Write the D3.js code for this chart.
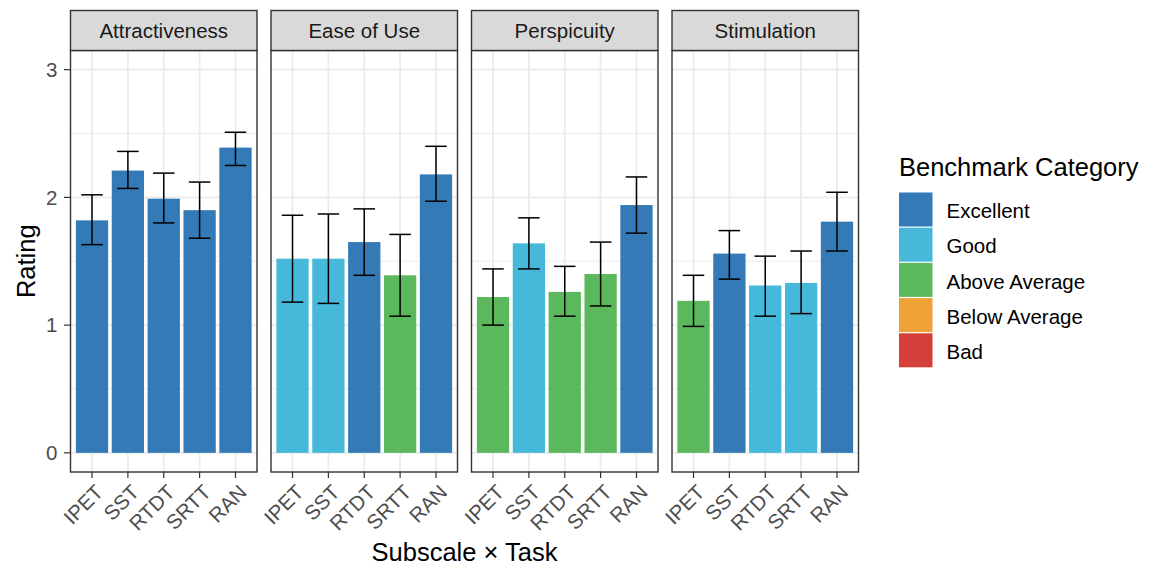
<!DOCTYPE html>
<html>
<head>
<meta charset="utf-8">
<script src="https://cdn.jsdelivr.net/npm/d3@7"></script>
<style>
  body { margin: 0; background: #fff; }
  text { font-family: Arial, "Liberation Sans", Helvetica, sans-serif; }
</style>
</head>
<body>
<svg id="chart" width="1149" height="566"></svg>
<script>
// UEQ subscale ratings by task, faceted by subscale

const subscales = ["Attractiveness", "Ease of Use", "Perspicuity", "Stimulation"];
const tasks = ["IPET", "SST", "RTDT", "SRTT", "RAN"];
const benchmarkCategories = ["Excellent", "Good", "Above Average", "Below Average", "Bad"];
const benchmarkColors = ["#337ab7", "#46b8da", "#5cb85c", "#eea236", "#d43f3a"];
const yTicks = [0, 1, 2, 3];

// one row per subscale, one value per task
const means = [
  [1.82, 2.21, 1.99, 1.90, 2.39],
  [1.52, 1.52, 1.65, 1.39, 2.18],
  [1.22, 1.64, 1.26, 1.40, 1.94],
  [1.19, 1.56, 1.31, 1.33, 1.81]
];
const lower = [
  [1.63, 2.07, 1.80, 1.68, 2.25],
  [1.18, 1.17, 1.39, 1.07, 1.97],
  [1.00, 1.44, 1.07, 1.15, 1.72],
  [0.99, 1.36, 1.07, 1.09, 1.58]
];
const upper = [
  [2.02, 2.36, 2.19, 2.12, 2.51],
  [1.86, 1.87, 1.91, 1.71, 2.40],
  [1.44, 1.84, 1.46, 1.65, 2.16],
  [1.39, 1.74, 1.54, 1.58, 2.04]
];
const category = [
  ["Excellent", "Excellent", "Excellent", "Excellent", "Excellent"],
  ["Good", "Good", "Excellent", "Above Average", "Excellent"],
  ["Above Average", "Good", "Above Average", "Above Average", "Excellent"],
  ["Above Average", "Excellent", "Good", "Good", "Excellent"]
];

const PANEL_LEFT = 70.5;
const PANEL_W = 186.5;
const PANEL_GAP = 14;
const STRIP_TOP = 10.5;
const STRIP_H = 40;
const PANEL_TOP = STRIP_TOP + STRIP_H;
const PANEL_BOTTOM = 472;

const TITLE_SIZE = 25.5;
const TEXT_SIZE = 20.5;

const GRID = "#ebebeb";
const DARK = "#333333";
const AXIS_TEXT = "#4d4d4d";

const svg = d3.select("#chart");

const color = d3.scaleOrdinal().domain(benchmarkCategories).range(benchmarkColors);

const y = d3.scaleLinear().domain([-0.15, 3.15]).range([PANEL_BOTTOM, PANEL_TOP]);

const x = d3.scaleBand()
  .domain(tasks)
  .range([0, PANEL_W])
  .paddingInner(0.1)
  .paddingOuter(0.15);

const capW = x.step() * 0.6;

// y axis labels (only on the first panel)
const yAxis = svg.append("g");
yTicks.forEach(t => {
  yAxis.append("line")
    .attr("x1", PANEL_LEFT - 6.5).attr("x2", PANEL_LEFT)
    .attr("y1", y(t)).attr("y2", y(t))
    .style("stroke", DARK).style("stroke-width", 1.2);
  yAxis.append("text")
    .attr("x", PANEL_LEFT - 13)
    .attr("y", y(t))
    .attr("dy", "0.36em")
    .attr("text-anchor", "end")
    .style("fill", AXIS_TEXT)
    .style("font-size", `${TEXT_SIZE}px`)
    .text(t);
});

subscales.forEach((name, i) => {
  const left = PANEL_LEFT + i * (PANEL_W + PANEL_GAP);
  const panel = svg.append("g").attr("transform", `translate(${left},0)`);

  panel.append("rect")
    .attr("x", 0).attr("y", PANEL_TOP)
    .attr("width", PANEL_W).attr("height", PANEL_BOTTOM - PANEL_TOP)
    .style("fill", "#fff");

  // minor grid
  [0.5, 1.5, 2.5].forEach(v => {
    panel.append("line")
      .attr("x1", 0).attr("x2", PANEL_W)
      .attr("y1", y(v)).attr("y2", y(v))
      .style("stroke", GRID).style("stroke-width", 1);
  });
  // major grid
  yTicks.forEach(v => {
    panel.append("line")
      .attr("x1", 0).attr("x2", PANEL_W)
      .attr("y1", y(v)).attr("y2", y(v))
      .style("stroke", GRID).style("stroke-width", 1.8);
  });
  tasks.forEach(t => {
    const cx = x(t) + x.bandwidth() / 2;
    panel.append("line")
      .attr("x1", cx).attr("x2", cx)
      .attr("y1", PANEL_TOP).attr("y2", PANEL_BOTTOM)
      .style("stroke", GRID).style("stroke-width", 1.8);
  });

  const rows = tasks.map((t, j) => ({
    task: t,
    mean: means[i][j],
    lo: lower[i][j],
    hi: upper[i][j],
    cat: category[i][j]
  }));

  // bars
  panel.selectAll(".bar")
    .data(rows)
    .enter()
    .append("rect")
    .attr("class", "bar")
    .attr("x", d => x(d.task))
    .attr("width", x.bandwidth())
    .attr("y", d => y(d.mean))
    .attr("height", d => y(0) - y(d.mean))
    .style("fill", d => color(d.cat));

  // error bars
  const eb = panel.selectAll(".err")
    .data(rows)
    .enter()
    .append("g")
    .attr("class", "err")
    .style("stroke", "#000")
    .style("stroke-width", 1.5)
    .style("fill", "none");
  eb.append("line")
    .attr("x1", d => x(d.task) + x.bandwidth() / 2)
    .attr("x2", d => x(d.task) + x.bandwidth() / 2)
    .attr("y1", d => y(d.lo)).attr("y2", d => y(d.hi));
  eb.append("line")
    .attr("x1", d => x(d.task) + x.bandwidth() / 2 - capW / 2)
    .attr("x2", d => x(d.task) + x.bandwidth() / 2 + capW / 2)
    .attr("y1", d => y(d.hi)).attr("y2", d => y(d.hi));
  eb.append("line")
    .attr("x1", d => x(d.task) + x.bandwidth() / 2 - capW / 2)
    .attr("x2", d => x(d.task) + x.bandwidth() / 2 + capW / 2)
    .attr("y1", d => y(d.lo)).attr("y2", d => y(d.lo));

  // panel border
  panel.append("rect")
    .attr("x", 0).attr("y", PANEL_TOP)
    .attr("width", PANEL_W).attr("height", PANEL_BOTTOM - PANEL_TOP)
    .style("fill", "none")
    .style("stroke", DARK).style("stroke-width", 1.4);

  // strip
  panel.append("rect")
    .attr("x", 0).attr("y", STRIP_TOP)
    .attr("width", PANEL_W).attr("height", STRIP_H)
    .style("fill", "#d9d9d9")
    .style("stroke", DARK).style("stroke-width", 1.4);
  panel.append("text")
    .attr("x", PANEL_W / 2)
    .attr("y", STRIP_TOP + STRIP_H / 2)
    .attr("dy", "0.36em")
    .attr("text-anchor", "middle")
    .style("fill", "#1a1a1a")
    .style("font-size", `${TEXT_SIZE}px`)
    .text(name);

  // x axis ticks + rotated labels
  tasks.forEach(t => {
    const cx = x(t) + x.bandwidth() / 2;
    panel.append("line")
      .attr("x1", cx).attr("x2", cx)
      .attr("y1", PANEL_BOTTOM).attr("y2", PANEL_BOTTOM + 6)
      .style("stroke", DARK).style("stroke-width", 1.2);
    panel.append("text")
      .attr("transform", `translate(${cx + 2},${PANEL_BOTTOM + 11}) rotate(-45)`)
      .attr("text-anchor", "end")
      .attr("dy", "0.72em")
      .style("fill", AXIS_TEXT)
      .style("font-size", `${TEXT_SIZE}px`)
      .text(t);
  });
});

// axis titles
svg.append("text")
  .attr("x", PANEL_LEFT + (4 * PANEL_W + 3 * PANEL_GAP) / 2)
  .attr("y", 561)
  .attr("text-anchor", "middle")
  .style("fill", "#000")
  .style("font-size", `${TITLE_SIZE}px`)
  .text("Subscale \u00d7 Task");

svg.append("text")
  .attr("transform", `translate(35,${(PANEL_TOP + PANEL_BOTTOM) / 2}) rotate(-90)`)
  .attr("text-anchor", "middle")
  .style("fill", "#000")
  .style("font-size", `${TITLE_SIZE}px`)
  .text("Rating");

// legend
const legend = svg.append("g").attr("transform", "translate(898,0)");
legend.append("text")
  .attr("x", 1).attr("y", 176)
  .style("fill", "#000")
  .style("font-size", `${TITLE_SIZE}px`)
  .text("Benchmark Category");

const KEY = 34.6;
benchmarkCategories.forEach((c, k) => {
  const top = 192.5 + k * (KEY + 0.6);
  legend.append("rect")
    .attr("x", 1).attr("y", top)
    .attr("width", 33.5).attr("height", KEY - 0.6)
    .style("fill", color(c));
  legend.append("text")
    .attr("x", 48.5)
    .attr("y", top + KEY / 2 + 1)
    .attr("dy", "0.36em")
    .style("fill", "#000")
    .style("font-size", `${TEXT_SIZE}px`)
    .text(c);
});
</script>
</body>
</html>
